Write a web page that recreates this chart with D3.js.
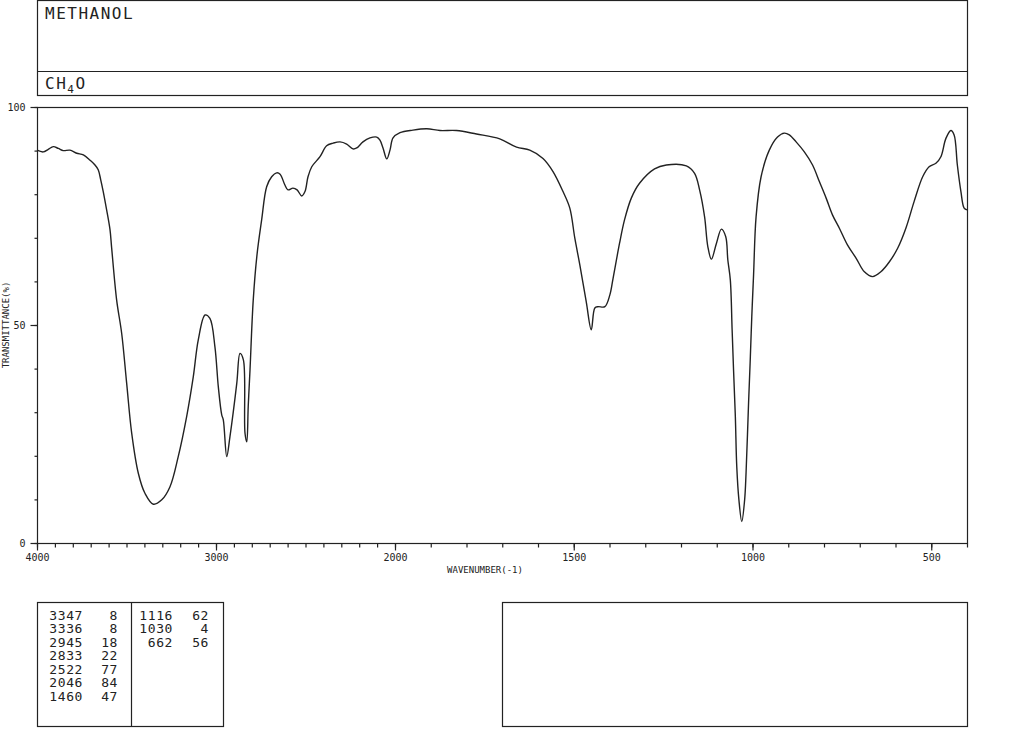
<!DOCTYPE html>
<html>
<head>
<meta charset="utf-8">
<script src="https://cdn.jsdelivr.net/npm/d3@7"></script>
<style>
  body { margin: 0; background: #fff; }
  text { font-family: "DejaVu Sans Mono", "Liberation Mono", monospace; fill: #222; }
</style>
</head>
<body>
<svg id="chart" width="1024" height="750"></svg>
<script>
// spectrum (wavenumber cm-1, transmittance %)
const wavenumbers = [4000,3965,3937,3909,3881,3853,3816,3778,3741,3704,3676,3658,3644,3630,3611,3592,3583,3555,3527,3499,3471,3434,3397,3350,3303,3257,3211,3164,3127,3099,3061,3034,3006,2987,2968,2959,2940,2922,2884,2866,2847,2838,2828,2820,2810,2792,2771,2745,2717,2689,2661,2642,2615,2598,2570,2547,2521,2503,2486,2465,2419,2382,2346,2307,2270,2235,2214,2179,2140,2102,2084,2067,2046,2028,2011,
  1986,1950,1911,1874,1828,1772,1707,1660,1623,1586,1558,1530,1511,1497,1483,1465,1451,1441,1432,1413,1399,1390,1372,1358,1339,1316,1274,1241,1185,1162,1148,1134,1125,1115,1101,1087,1075,1069,1062,1057,1053,1048,1044,1038,1030,1022,1018,1011,1006,1002,997,990,976,953,930,911,897,878,855,832,813,794,776,757,734,710,687,664,641,617,594,571,548,524,506,487,473,459,445,436,427,417,408,400];
const transmittance = [90.1,89.7,90.3,90.9,90.5,90.0,90.1,89.4,89.0,87.8,86.7,85.6,83.3,80.6,76.4,71.8,67.7,55.7,48.1,36.6,25.2,16.0,11.4,8.9,9.9,12.9,19.8,29.0,38.1,46.6,52.3,51.5,45.0,35.8,29.4,28.2,19.8,24.4,36.6,43.5,42.0,25.2,23.2,31.3,39.7,55.7,66.1,74.1,81.7,84.0,84.9,84.6,82.1,81.0,81.4,81.0,79.6,80.6,84.0,86.3,88.6,91.1,91.7,92.0,91.5,90.4,90.6,92.0,92.9,93.1,92.4,90.6,88.1,90.1,92.9,
  94.1,94.7,95.0,94.6,94.6,93.8,92.7,90.8,90.1,88.2,85.2,80.6,76.8,69.9,63.8,55.3,48.9,53.9,54.2,54.2,56.9,60.7,68.7,74.1,79.1,82.5,85.8,86.7,86.5,84.8,81.0,74.8,68.0,65.1,68.7,72.0,70.3,64.9,60.3,48.9,39.7,29.0,17.5,9.9,4.9,9.9,16.1,32.1,42.7,51.9,61.5,74.8,84.0,90.1,93.1,94.0,93.6,92.0,89.7,86.7,82.9,79.1,75.2,72.2,68.3,65.3,62.2,61.1,62.2,64.5,67.6,72.2,78.3,84.0,86.3,87.1,88.6,92.8,94.6,93.6,86.7,80.6,76.8,76.4];

// peak list printed below the chart
const peakWavenumbers = [3347,3336,2945,2833,2522,2046,1460,1116,1030,662];
const peakTransmittance = [8,8,18,22,77,84,47,62,4,56];

const xTickLabels = [4000,3000,2000,1500,1000,500];
const yTickLabels = [0,50,100];
const compoundName = "METHANOL";

const svg = d3.select("#chart");
const ink = "#222";

// two-scale wavenumber axis, expanded below 2000
const x = d3.scaleLinear().domain([4000, 2000, 400]).range([37, 395, 967]);
const y = d3.scaleLinear().domain([0, 100]).range([543, 107]);

// header box
svg.append("rect").attr("x", 37.5).attr("y", 0.5).attr("width", 930).attr("height", 95)
  .attr("fill", "none").attr("stroke", ink).attr("stroke-width", 1.2);
svg.append("line").attr("x1", 37.5).attr("x2", 967.5).attr("y1", 71.5).attr("y2", 71.5)
  .attr("stroke", ink).attr("stroke-width", 1.2);
svg.append("text").attr("x", 45).attr("y", 19).style("font-size", "16px")
  .style("letter-spacing", "1.5px").text(compoundName);
const formula = svg.append("text").attr("x", 45).attr("y", 89)
  .style("font-size", "16px").style("letter-spacing", "1.5px");
formula.append("tspan").text("CH");
formula.append("tspan").attr("dy", 4).style("font-size", "11px").text("4");
formula.append("tspan").attr("dy", -4).text("O");

// plot frame
svg.append("rect").attr("x", 37.5).attr("y", 107.5).attr("width", 930).attr("height", 436)
  .attr("fill", "none").attr("stroke", ink).attr("stroke-width", 1.2);

// x axis
const minorX = d3.range(4000, 399, -100);
svg.append("g").attr("transform", "translate(0,543.5)")
  .call(d3.axisBottom(x).tickValues(minorX).tickSize(4).tickSizeOuter(0).tickFormat(""))
  .call(g => g.select(".domain").remove());
svg.append("g").attr("transform", "translate(0,543.5)")
  .call(d3.axisBottom(x).tickValues(xTickLabels).tickSize(7).tickSizeOuter(0).tickPadding(3).tickFormat(d3.format("d")))
  .call(g => g.select(".domain").remove())
  .call(g => g.selectAll("text").style("font-size", "10px").style("font-family", "'DejaVu Sans Mono', monospace").attr("fill", ink));

// y axis
svg.append("g").attr("transform", "translate(37.5,0)")
  .call(d3.axisLeft(y).tickValues(d3.range(0, 101, 10)).tickSize(3).tickSizeOuter(0).tickFormat(""))
  .call(g => g.select(".domain").remove());
svg.append("g").attr("transform", "translate(37.5,0)")
  .call(d3.axisLeft(y).tickValues(yTickLabels).tickSize(7).tickSizeOuter(0).tickPadding(5).tickFormat(d3.format("d")))
  .call(g => g.select(".domain").remove())
  .call(g => g.selectAll("text").style("font-size", "10px").style("font-family", "'DejaVu Sans Mono', monospace").attr("fill", ink));

svg.selectAll(".tick line").attr("stroke", ink).attr("stroke-width", 1.2);

svg.append("text").attr("x", 485).attr("y", 573).attr("text-anchor", "middle")
  .style("font-size", "9px").text("WAVENUMBER(-1)");
svg.append("text").attr("transform", "translate(9,325) rotate(-90)").attr("text-anchor", "middle")
  .style("font-size", "9px").text("TRANSMITTANCE(%)");

// spectrum
const points = wavenumbers.map((w, i) => [w, transmittance[i]]);
const line = d3.line()
  .x(d => x(d[0]))
  .y(d => y(d[1]))
  .curve(d3.curveCatmullRom.alpha(0.5));
svg.append("path").datum(points)
  .attr("d", line)
  .attr("fill", "none")
  .attr("stroke", ink)
  .attr("stroke-width", 1.4);

// peak table
svg.append("rect").attr("x", 37.5).attr("y", 602.5).attr("width", 186).attr("height", 124)
  .attr("fill", "none").attr("stroke", ink).attr("stroke-width", 1.2);
svg.append("line").attr("x1", 131.5).attr("x2", 131.5).attr("y1", 602.5).attr("y2", 726.5)
  .attr("stroke", ink).attr("stroke-width", 1.2);
svg.append("rect").attr("x", 502.5).attr("y", 602.5).attr("width", 465).attr("height", 124)
  .attr("fill", "none").attr("stroke", ink).attr("stroke-width", 1.2);

const rowsPerCol = 7;
const peaks = peakWavenumbers.map((w, i) => ({ w, t: peakTransmittance[i], col: Math.floor(i / rowsPerCol), row: i % rowsPerCol }));
const colRight = [[83, 118], [173, 209]];
const rows = svg.append("g").selectAll("g").data(peaks).enter().append("g")
  .attr("transform", d => "translate(0," + (619.5 + d.row * 13.5) + ")");
rows.append("text").attr("x", d => colRight[d.col][0]).attr("text-anchor", "end")
  .style("font-size", "13px").style("letter-spacing", "0.6px").text(d => d.w);
rows.append("text").attr("x", d => colRight[d.col][1]).attr("text-anchor", "end")
  .style("font-size", "13px").style("letter-spacing", "0.6px").text(d => d.t);
</script>
</body>
</html>
